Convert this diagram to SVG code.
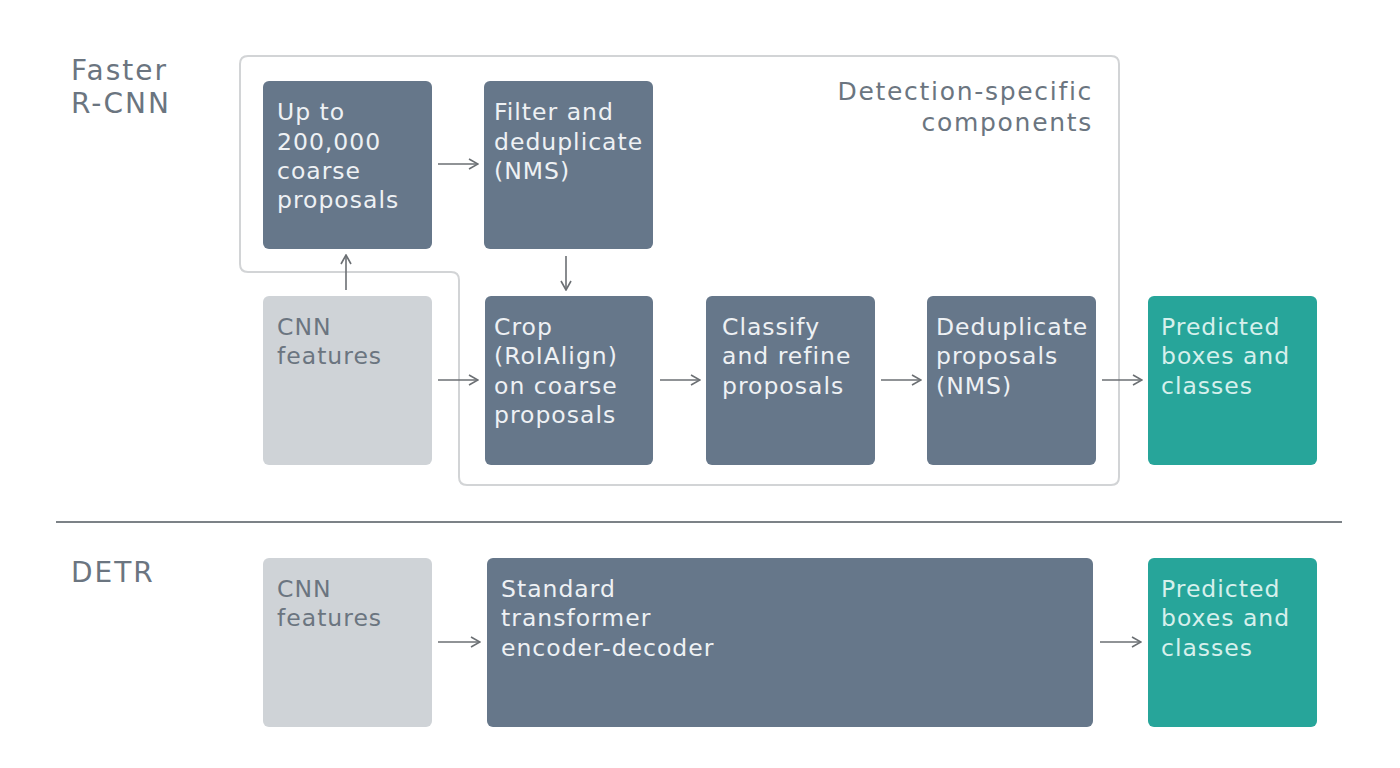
<svg xmlns="http://www.w3.org/2000/svg" width="1400" height="768" viewBox="0 0 1400 768">
<defs>
<marker id="ah" viewBox="0 0 12 12" refX="11" refY="6" markerWidth="12" markerHeight="12" markerUnits="userSpaceOnUse" orient="auto">
<path d="M2,1 L11,6 L2,11" fill="none" stroke="#6b6f73" stroke-width="1.6"/>
</marker>
<style>
.dark{fill:#66778a}
.light{fill:#cfd3d7}
.teal{fill:#27a59a}
.t{font-family:"DejaVu Sans","Liberation Sans",sans-serif;font-size:23.5px;letter-spacing:1px}
.tw{fill:#eef1f4}
.tg{fill:#6b7580}
.tt{fill:#d6f0ec}
.lab{font-family:"DejaVu Sans","Liberation Sans",sans-serif;font-size:28px;letter-spacing:2px;fill:#6b7580}
.lab2{font-family:"DejaVu Sans","Liberation Sans",sans-serif;font-size:25px;letter-spacing:1.7px;fill:#6b7580}
.con{stroke:#6b6f73;stroke-width:1.6;fill:none;marker-end:url(#ah)}
</style>
</defs>
<rect width="1400" height="768" fill="#ffffff"/>
<text class="lab" x="71" y="80">Faster</text>
<text class="lab" x="71" y="113">R-CNN</text>
<text class="lab" x="71" y="582">DETR</text>
<line x1="56" y1="522" x2="1342" y2="522" stroke="#7c8287" stroke-width="2"/>
<g id="detection-specific">
<path d="M248,56 H1111 Q1119,56 1119,64 V477 Q1119,485 1111,485 H467 Q459,485 459,477 V280 Q459,272 451,272 H248 Q240,272 240,264 V64 Q240,56 248,56 Z" fill="none" stroke="#d2d4d6" stroke-width="2"/>
<text class="lab2" x="1093" y="100" text-anchor="end">Detection-specific</text>
<text class="lab2" x="1093" y="131" text-anchor="end">components</text>
</g>
<g id="coarse">
<rect class="dark" x="263" y="81" width="169" height="168" rx="6"/>
<text class="t tw" x="277"><tspan x="277" y="120">Up to</tspan><tspan x="277" y="150">200,000</tspan><tspan x="277" y="179">coarse</tspan><tspan x="277" y="208">proposals</tspan></text>
</g>
<g id="filter">
<rect class="dark" x="484" y="81" width="169" height="168" rx="6"/>
<text class="t tw"><tspan x="494" y="120">Filter and</tspan><tspan x="494" y="150">deduplicate</tspan><tspan x="494" y="179">(NMS)</tspan></text>
</g>
<g id="cnn1">
<rect class="light" x="263" y="296" width="169" height="169" rx="6"/>
<text class="t tg"><tspan x="277" y="335">CNN</tspan><tspan x="277" y="364">features</tspan></text>
</g>
<g id="crop">
<rect class="dark" x="485" y="296" width="168" height="169" rx="6"/>
<text class="t tw"><tspan x="494" y="335">Crop</tspan><tspan x="494" y="364">(RoIAlign)</tspan><tspan x="494" y="394">on coarse</tspan><tspan x="494" y="423">proposals</tspan></text>
</g>
<g id="classify">
<rect class="dark" x="706" y="296" width="169" height="169" rx="6"/>
<text class="t tw"><tspan x="722" y="335">Classify</tspan><tspan x="722" y="364">and refine</tspan><tspan x="722" y="394">proposals</tspan></text>
</g>
<g id="dedup">
<rect class="dark" x="927" y="296" width="169" height="169" rx="6"/>
<text class="t tw"><tspan x="936" y="335">Deduplicate</tspan><tspan x="936" y="364">proposals</tspan><tspan x="936" y="394">(NMS)</tspan></text>
</g>
<g id="pred1">
<rect class="teal" x="1148" y="296" width="169" height="169" rx="6"/>
<text class="t tt"><tspan x="1161" y="335">Predicted</tspan><tspan x="1161" y="364">boxes and</tspan><tspan x="1161" y="394">classes</tspan></text>
</g>
<g id="cnn2">
<rect class="light" x="263" y="558" width="169" height="169" rx="6"/>
<text class="t tg"><tspan x="277" y="597">CNN</tspan><tspan x="277" y="626">features</tspan></text>
</g>
<g id="transformer">
<rect class="dark" x="487" y="558" width="606" height="169" rx="6"/>
<text class="t tw"><tspan x="501" y="597">Standard</tspan><tspan x="501" y="626">transformer</tspan><tspan x="501" y="656">encoder-decoder</tspan></text>
</g>
<g id="pred2">
<rect class="teal" x="1148" y="558" width="169" height="169" rx="6"/>
<text class="t tt"><tspan x="1161" y="597">Predicted</tspan><tspan x="1161" y="626">boxes and</tspan><tspan x="1161" y="656">classes</tspan></text>
</g>
<g id="connectors">
<line class="con" x1="438" y1="164" x2="478" y2="164"/>
<line class="con" x1="346" y1="290" x2="346" y2="255"/>
<line class="con" x1="566" y1="256" x2="566" y2="290"/>
<line class="con" x1="438" y1="380" x2="478" y2="380"/>
<line class="con" x1="660" y1="380" x2="700" y2="380"/>
<line class="con" x1="881" y1="380" x2="921" y2="380"/>
<line class="con" x1="1102" y1="380" x2="1142" y2="380"/>
<line class="con" x1="438" y1="642" x2="480" y2="642"/>
<line class="con" x1="1100" y1="642" x2="1141" y2="642"/>
</g>
</svg>
